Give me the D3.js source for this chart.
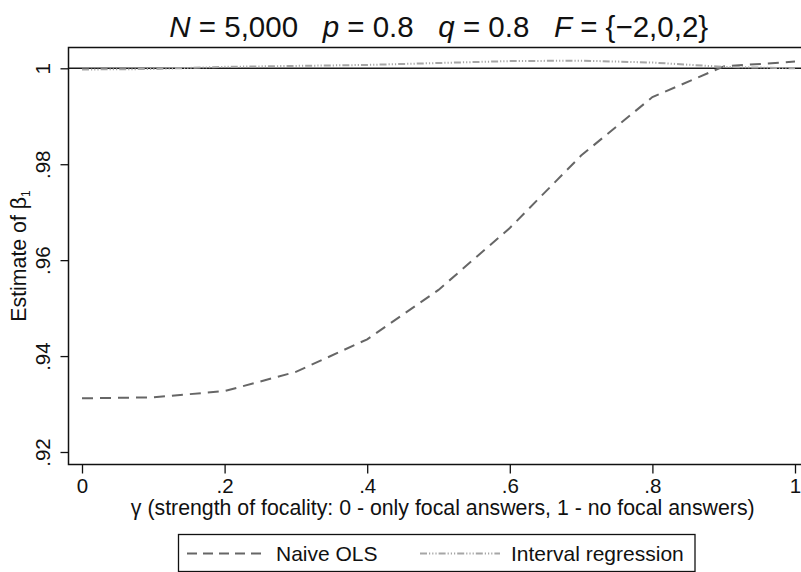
<!DOCTYPE html>
<html>
<head>
<meta charset="utf-8">
<script src="https://cdn.jsdelivr.net/npm/d3@7"></script>
<style>
  html, body { margin: 0; padding: 0; background: #fff; }
  svg { display: block; font-family: "Liberation Sans", Arial, Helvetica, sans-serif; }
</style>
</head>
<body>
<svg id="chart" width="801" height="572"></svg>
<script>
// Focality parameter values
const gamma = [0, 0.1, 0.2, 0.3, 0.4, 0.5, 0.6, 0.7, 0.8, 0.9, 1.0];
// Mean estimate of beta_1 for each estimator
const naiveOLS = [0.9312, 0.9314, 0.9327, 0.9367, 0.9435, 0.9538, 0.9667, 0.9818, 0.9940, 1.0004, 1.0014];
const intervalReg = [0.99975, 0.99985, 1.0003, 1.0005, 1.0007, 1.0011, 1.0015, 1.0016, 1.0012, 1.0003, 1.0000];
// True parameter value
const trueBeta = 1;
// Axis ticks
const xTicks = [0, 0.2, 0.4, 0.6, 0.8, 1];
const yTicks = [0.92, 0.94, 0.96, 0.98, 1];
const seriesNames = ["Naive OLS", "Interval regression"];

const svg = d3.select("#chart");

const frame = { left: 68.5, top: 47.5, right: 809, bottom: 464.5 };
const x = d3.scaleLinear().domain([0, 1]).range([82, 795]);
const y = d3.scaleLinear().domain([0.92, 1]).range([452, 68.3]);

const fmt = v => v === 1 ? "1" : (v === 0 ? "0" : d3.format(".2~f")(v).replace(/^0/, ""));

// Title
const title = svg.append("text")
  .attr("x", (frame.left + frame.right) / 2)
  .attr("y", 37)
  .attr("text-anchor", "middle")
  .attr("font-size", 29.5)
  .attr("fill", "#111");
const parts = [["N", true], [" = 5,000   ", false], ["p", true], [" = 0.8   ", false],
               ["q", true], [" = 0.8   ", false], ["F", true], [" = {\u22122,0,2}", false]];
parts.forEach(([t, it]) => {
  title.append("tspan").attr("font-style", it ? "italic" : "normal").text(t);
});
title.attr("xml:space", "preserve").style("white-space", "pre");

// Plot frame
svg.append("rect")
  .attr("x", frame.left).attr("y", frame.top)
  .attr("width", frame.right - frame.left).attr("height", frame.bottom - frame.top)
  .attr("fill", "none").attr("stroke", "#111").attr("stroke-width", 1.5);

// Y axis
const yAxis = svg.append("g")
  .attr("transform", `translate(${frame.left},0)`)
  .call(d3.axisLeft(y).tickValues(yTicks).tickFormat(fmt).tickSize(8).tickSizeOuter(0));
yAxis.select(".domain").remove();
yAxis.selectAll(".tick line").attr("stroke", "#111").attr("stroke-width", 1.3);
yAxis.selectAll(".tick text")
  .attr("font-size", 20.5).attr("fill", "#111")
  .attr("font-family", "Liberation Sans, Arial, sans-serif")
  .attr("x", null).attr("dy", null)
  .attr("text-anchor", "middle")
  .attr("transform", "translate(-18.5,0) rotate(-90)");

// X axis
const xAxis = svg.append("g")
  .attr("transform", `translate(0,${frame.bottom})`)
  .call(d3.axisBottom(x).tickValues(xTicks).tickFormat(fmt).tickSize(9).tickSizeOuter(0));
xAxis.select(".domain").remove();
xAxis.selectAll(".tick line").attr("stroke", "#111").attr("stroke-width", 1.3);
xAxis.selectAll(".tick text")
  .attr("font-size", 20.5).attr("fill", "#111")
  .attr("font-family", "Liberation Sans, Arial, sans-serif")
  .attr("y", 28.5).attr("dy", null);

// Axis titles
svg.append("text")
  .attr("x", (frame.left + frame.right) / 2 + 4)
  .attr("y", 515)
  .attr("text-anchor", "middle")
  .attr("font-size", 21.3).attr("fill", "#111")
  .text("\u03b3 (strength of focality: 0 - only focal answers, 1 - no focal answers)");

const yTitle = svg.append("text")
  .attr("transform", `translate(26,${(frame.top + frame.bottom) / 2}) rotate(-90)`)
  .attr("text-anchor", "middle")
  .attr("font-size", 21.3).attr("fill", "#111");
yTitle.append("tspan").text("Estimate of \u03b2");
yTitle.append("tspan").attr("font-size", 12).attr("dy", 4).text("1");

// Reference line at the true value
svg.append("line")
  .attr("x1", frame.left).attr("x2", frame.right)
  .attr("y1", y(trueBeta)).attr("y2", y(trueBeta))
  .attr("stroke", "#1a1a1a").attr("stroke-width", 1.6);

const line = d3.line().x((d, i) => x(gamma[i])).y(d => y(d));

const styles = [
  { stroke: "#666666", width: 2, dash: "11,7" },
  { stroke: "#a6a6a6", width: 2, dash: "7,2,1.2,2,1.2,2,1.2,2" }
];

[naiveOLS, intervalReg].forEach((vals, k) => {
  svg.append("path")
    .attr("d", line(vals))
    .attr("fill", "none")
    .attr("stroke", styles[k].stroke)
    .attr("stroke-width", styles[k].width)
    .attr("stroke-dasharray", styles[k].dash);
});

// Legend
const legend = svg.append("g");
legend.append("rect")
  .attr("x", 178.5).attr("y", 534.5).attr("width", 516.5).attr("height", 37)
  .attr("fill", "#fff").attr("stroke", "#111").attr("stroke-width", 1.3);

const legendItems = [
  { x1: 187, x2: 267, tx: 276 },
  { x1: 420, x2: 500, tx: 511 }
];
legendItems.forEach((it, k) => {
  legend.append("line")
    .attr("x1", it.x1).attr("x2", it.x2).attr("y1", 553.5).attr("y2", 553.5)
    .attr("stroke", styles[k].stroke).attr("stroke-width", styles[k].width)
    .attr("stroke-dasharray", k === 0 ? "10,6" : styles[k].dash);
  legend.append("text")
    .attr("x", it.tx).attr("y", 561)
    .attr("font-size", 21).attr("fill", "#111")
    .text(seriesNames[k]);
});
</script>
</body>
</html>
